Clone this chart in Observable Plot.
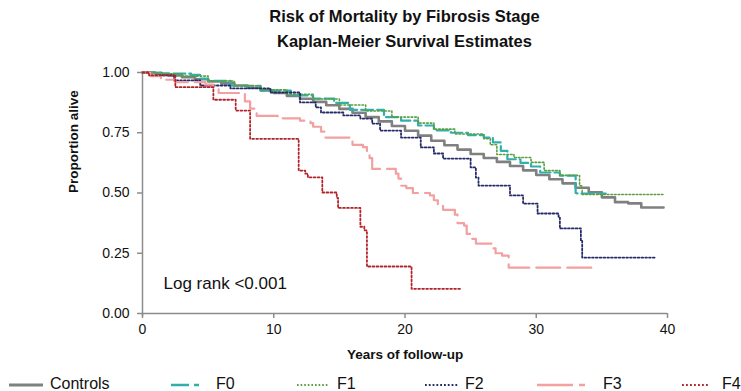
<!DOCTYPE html>
<html>
<head>
<meta charset="utf-8">
<script src="https://cdn.jsdelivr.net/npm/d3@7"></script>
<script src="https://cdn.jsdelivr.net/npm/@observablehq/plot@0.6"></script>
<style>
  html, body { margin: 0; padding: 0; background: #fff; }
  body { width: 741px; height: 391px; position: relative; overflow: hidden; font-family: "Liberation Sans", Arial, sans-serif; }
  #title { height: 62px; position: relative; }
  #title div { position: absolute; left: 142px; width: 525px; text-align: center; font-weight: bold; font-size: 16.5px; color: #111; }
  #legend { position: relative; height: 29px; }
  .item { position: absolute; top: 12px; font-size: 16px; color: #111; line-height: 20px; }
</style>
</head>
<body>
<div id="title"><div style="top:7px">Risk of Mortality by Fibrosis Stage</div><div style="top:32px">Kaplan-Meier Survival Estimates</div></div>
<div id="chart"></div>
<div id="legend"></div>
<script>
// ---- data (years of follow-up, proportion alive) ----
const controlsYears = [0,1,2,3,4,5,6,7,8,9,10,11,12,13,14,15,16,17,18,19,20,21,22,23,24,25,26,27,28,29,30,31,32,33,34,35,36,37,38,39.7];
const controlsSurv  = [1,0.995,0.988,0.981,0.972,0.963,0.955,0.946,0.937,0.926,0.915,0.903,0.891,0.878,0.864,0.849,0.833,0.815,0.797,0.778,0.758,0.738,0.717,0.698,0.680,0.662,0.645,0.629,0.612,0.594,0.575,0.557,0.540,0.522,0.503,0.482,0.462,0.457,0.440,0.440];

const f0Years = [0,1.4,3.7,4.4,5,6.7,9,11.3,13,14.6,15.8,18.4,19.7,21,22.2,23.5,24.8,26,26.7,27.3,27.8,28.8,29.6,30.3,31.8,33,33.1,35.3];
const f0Surv  = [1,0.995,0.99,0.975,0.965,0.945,0.925,0.905,0.892,0.874,0.845,0.815,0.80,0.78,0.76,0.75,0.74,0.73,0.71,0.675,0.64,0.625,0.61,0.585,0.572,0.50,0.498,0.498];

const f1Years = [0,1.5,3,5,7,9,11,13,15,17,19,21,22.2,23.8,26,26.5,27,28.3,29.6,30.6,31.8,33.3,33.5,39.7];
const f1Surv  = [1,0.995,0.985,0.965,0.945,0.928,0.91,0.89,0.865,0.84,0.815,0.79,0.765,0.745,0.725,0.70,0.66,0.647,0.627,0.593,0.573,0.53,0.494,0.494];

const f2Years = [0,0.6,2.4,4.4,6.7,9.75,12.0,13.2,13.6,15.3,16.6,17.5,18.1,19.7,21.2,22.2,22.9,25.0,25.4,25.6,28.0,29.0,30.1,31.7,31.8,33.4,33.5,39.1];
const f2Surv  = [1,0.988,0.967,0.946,0.934,0.917,0.876,0.855,0.834,0.822,0.809,0.788,0.759,0.730,0.689,0.664,0.643,0.606,0.564,0.531,0.49,0.456,0.415,0.398,0.353,0.303,0.232,0.232];

const f3Years = [0,0.6,1.4,2.5,4.8,5.4,5.8,7.8,8.2,8.7,10.3,12.0,12.8,13.0,13.6,13.9,16.0,16.8,17.1,17.3,17.5,19.3,19.5,19.7,20.1,20.6,21.9,22.2,22.5,22.9,23.8,24.0,24.5,24.7,25.0,25.4,26.7,26.9,27.4,27.9,34.7];
const f3Surv  = [1,0.985,0.97,0.96,0.95,0.93,0.915,0.88,0.85,0.82,0.81,0.80,0.79,0.775,0.755,0.73,0.70,0.69,0.67,0.645,0.60,0.58,0.56,0.53,0.52,0.50,0.49,0.47,0.45,0.43,0.41,0.375,0.365,0.33,0.31,0.29,0.27,0.25,0.24,0.19,0.19];

const f4Years = [0,0.5,2.5,5.4,7.1,8.2,11.9,12.4,12.6,13.7,14.8,14.9,16.6,16.9,17.1,20.5,24.2];
const f4Surv  = [1,0.988,0.939,0.887,0.842,0.725,0.593,0.58,0.565,0.502,0.48,0.438,0.36,0.345,0.195,0.1025,0.1025];

const xTicks = [0,10,20,30,40];
const yTicks = [0,0.25,0.5,0.75,1];

const seriesDefs = [
  {name: "Controls", years: controlsYears, surv: controlsSurv, color: "#808080", width: 2.6, dash: null, legendDash: null},
  {name: "F0", years: f0Years, surv: f0Surv, color: "#2fb0ac", width: 2.2, dash: "12,4", legendDash: "18,5,5,5"},
  {name: "F1", years: f1Years, surv: f1Surv, color: "#5a9e40", width: 1.6, dash: "1.6,2", legendDash: "1.6,2"},
  {name: "F2", years: f2Years, surv: f2Surv, color: "#262b6a", width: 1.8, dash: "1.8,2", legendDash: "1.8,2"},
  {name: "F3", years: f3Years, surv: f3Surv, color: "#f2a0a0", width: 2.2, dash: "24,7", legendDash: "36,6,6,6"},
  {name: "F4", years: f4Years, surv: f4Surv, color: "#b5232a", width: 1.8, dash: "1.8,2.2", legendDash: "1.8,2.2"}
];

const lineMarks = seriesDefs.map(s => Plot.line(
  s.years.map((t, i) => ({t, s: s.surv[i]})),
  {x: "t", y: "s", curve: "step-after", stroke: s.color, strokeWidth: s.width, strokeDasharray: s.dash}
));

const chart = Plot.plot({
  width: 741,
  height: 300,
  marginLeft: 142,
  marginRight: 74,
  marginTop: 10,
  marginBottom: 49,
  style: {fontFamily: "'Liberation Sans', Arial, sans-serif", background: "#fff"},
  x: {domain: [0, 40]},
  y: {domain: [0, 1]},
  marks: [
    Plot.ruleX([0], {stroke: "#8c8c8c", strokeWidth: 1.5, y1: -0.012, y2: 1}),
    Plot.ruleY([0], {stroke: "#8c8c8c", strokeWidth: 1.5}),
    Plot.axisX({ticks: xTicks, tickSize: 5, stroke: "#8c8c8c", strokeWidth: 1.5, tickPadding: 6, fontSize: 14, fill: "#111", label: null, tickFormat: d3.format("d")}),
    Plot.axisY({ticks: yTicks, tickSize: 5, stroke: "#8c8c8c", strokeWidth: 1.5, tickPadding: 8, fontSize: 14, fill: "#111", label: null, tickFormat: d3.format(".2f")}),
    Plot.text(["Years of follow-up"], {frameAnchor: "bottom", dy: 45, fontSize: 13.5, fontWeight: "bold", fill: "#111"}),
    Plot.text(["Proportion alive"], {frameAnchor: "left", rotate: -90, dx: -69, fontSize: 13.5, fontWeight: "bold", fill: "#111"}),
    Plot.text(["Log rank <0.001"], {frameAnchor: "bottom-left", dx: 21, dy: -25, textAnchor: "start", fontSize: 17, fill: "#111"}),
    ...lineMarks
  ]
});
document.getElementById("chart").appendChild(chart);

// ---- legend ----
const legendPos = [
  {sw: 9, swW: 34, tx: 50},
  {sw: 171, swW: 33, tx: 216},
  {sw: 297, swW: 31, tx: 337},
  {sw: 425, swW: 33, tx: 465},
  {sw: 537, swW: 52, tx: 603},
  {sw: 682, swW: 26, tx: 722}
];
const legend = document.getElementById("legend");
seriesDefs.forEach((s, i) => {
  const p = legendPos[i];
  const sw = document.createElementNS("http://www.w3.org/2000/svg", "svg");
  sw.setAttribute("width", p.swW); sw.setAttribute("height", 20);
  sw.style.position = "absolute"; sw.style.left = p.sw + "px"; sw.style.top = "12px";
  const ln = document.createElementNS("http://www.w3.org/2000/svg", "line");
  ln.setAttribute("x1", 0); ln.setAttribute("x2", p.swW); ln.setAttribute("y1", 11); ln.setAttribute("y2", 11);
  ln.setAttribute("stroke", s.color); ln.setAttribute("stroke-width", s.width + 0.4);
  if (s.legendDash) ln.setAttribute("stroke-dasharray", s.legendDash);
  sw.appendChild(ln);
  legend.appendChild(sw);
  const tx = document.createElement("div");
  tx.className = "item"; tx.style.left = p.tx + "px"; tx.textContent = s.name;
  legend.appendChild(tx);
});
</script>
</body>
</html>
